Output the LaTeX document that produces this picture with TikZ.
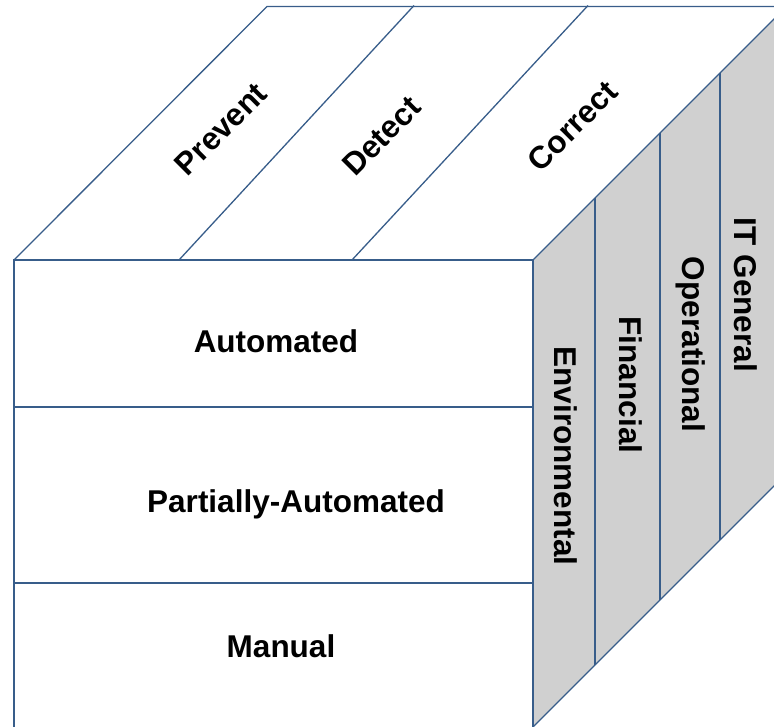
\documentclass[tikz,border=0pt]{standalone}
\usepackage{fontspec}
\setmainfont{Liberation Sans}
\definecolor{edge}{RGB}{56,93,138}
\definecolor{side}{RGB}{208,208,208}
\begin{document}
\begin{tikzpicture}[x=1pt,y=-1pt,
  frontline/.style={draw=edge,line width=2pt},
  thinline/.style={draw=edge,line width=1.3pt},
  lbl/.style={font=\bfseries\fontsize{31.5}{38}\selectfont,inner sep=0pt}]
\useasboundingbox (0,0) rectangle (774,726);
\clip (0,0) rectangle (774,726);
% cube corners
\coordinate (F1) at (14,260);
\coordinate (F2) at (533,260);
\coordinate (F3) at (533,727);
\coordinate (F3x) at (533,740);
\coordinate (F4) at (14,740);
\coordinate (B1) at (267,6.5);
\coordinate (B2) at (786.5,6.5);
\coordinate (B3) at (786.5,473.5);
% top dividers
\coordinate (T1a) at (179,260);
\coordinate (T1b) at (414,5.5);
\coordinate (T2a) at (352,260);
\coordinate (T2b) at (588,5.5);
% right dividers
\coordinate (R1a) at (595,198);
\coordinate (R1b) at (595,665);
\coordinate (R2a) at (660,133);
\coordinate (R2b) at (660,600);
\coordinate (R3a) at (720,73);
\coordinate (R3b) at (720,540);
% front rows
\coordinate (H1a) at (14,407);
\coordinate (H1b) at (533,407);
\coordinate (H2a) at (14,583);
\coordinate (H2b) at (533,583);
% faces
\fill[side] (F2) -- (B2) -- (B3) -- (F3) -- cycle;
\fill[white] (F1) -- (B1) -- (B2) -- (F2) -- cycle;
\draw[thinline] (F1) -- (B1) -- (B2);
\draw[thinline] (T1a) -- (T1b);
\draw[thinline] (T2a) -- (T2b);
\draw[thinline] (F2) -- (B2) -- (B3) -- (F3);
\draw[thinline] (R1a) -- (R1b);
\draw[thinline] (R2a) -- (R2b);
\draw[thinline] (R3a) -- (R3b);
\draw[frontline] (F4) -- (F1) -- (F2) -- (F3x);
\draw[frontline] (H1a) -- (H1b);
\draw[frontline] (H2a) -- (H2b);
% labels
\node[lbl,anchor=base] (auto) at (276,352) {Automated};
\node[lbl,anchor=base] (part) at (296,512) {Partially-Automated};
\node[lbl,anchor=base] (man) at (281,657) {Manual};
\node[lbl,rotate=45] (prev) at (221,129) {Prevent};
\node[lbl,rotate=45] (det) at (381.5,136) {Detect};
\node[lbl,rotate=45] (cor) at (572.5,126) {Correct};
\node[lbl,rotate=-90,anchor=base] (env) at (554,456) {Environmental};
\node[lbl,rotate=-90,anchor=base] (fin) at (619,385) {Financial};
\node[lbl,rotate=-90,anchor=base] (op) at (682,344.5) {Operational};
\node[lbl,rotate=-90,anchor=base] (itg) at (734.5,295) {IT General};
\end{tikzpicture}
\end{document}
